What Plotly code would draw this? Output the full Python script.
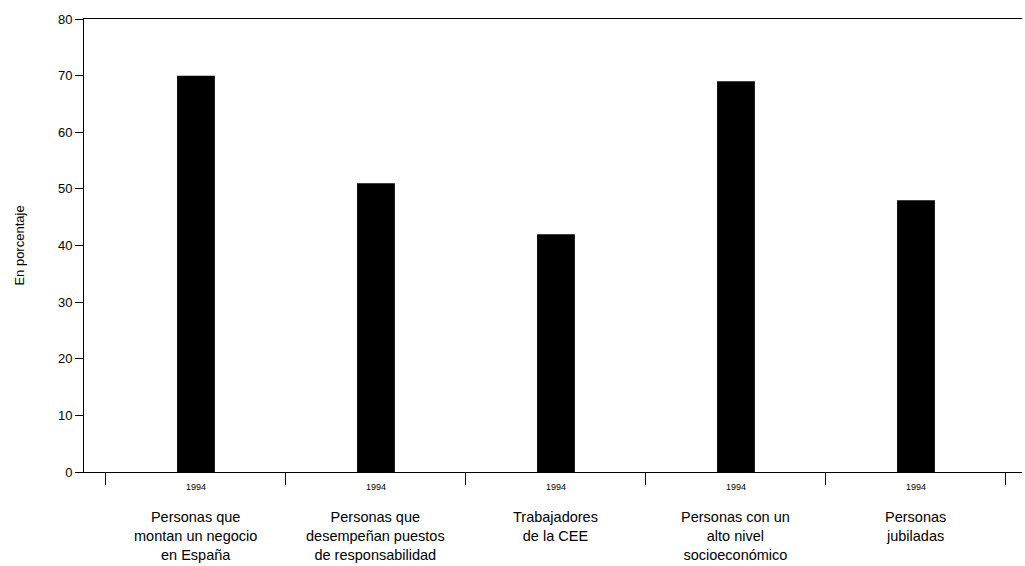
import plotly.graph_objects as go

categories = ["Personas que<br>montan un negocio<br>en España",
              "Personas que<br>desempeñan puestos<br>de responsabilidad",
              "Trabajadores<br>de la CEE",
              "Personas con un<br>alto nivel<br>socioeconómico",
              "Personas<br>jubiladas"]
years = ["1994", "1994", "1994", "1994", "1994"]
values = [70, 51, 42, 69, 48]
y_ticks = [0, 10, 20, 30, 40, 50, 60, 70, 80]

pos = list(range(len(categories)))

fig = go.Figure()
fig.add_trace(go.Bar(x=pos, y=values, width=0.21,
                     marker=dict(color="black", line=dict(width=0))))

for p, c in zip(pos, categories):
    fig.add_annotation(x=p, y=-0.078, xref="x", yref="paper", text=c,
                       showarrow=False, yanchor="top", xanchor="center",
                       font=dict(size=14.5, color="black", family="Liberation Sans, Arial"),
                       align="center")

fig.update_layout(
    width=1025, height=566,
    margin=dict(l=84, r=3, t=19, b=94),
    paper_bgcolor="white", plot_bgcolor="white",
    showlegend=False,
    font=dict(family="Liberation Sans, Arial", color="black"),
    xaxis=dict(range=[-0.622, 4.589], tickvals=pos, ticktext=years,
               ticks="outside", ticklen=6, tickcolor="white", automargin=False,
               tickfont=dict(size=9, color="black"),
               showline=True, linecolor="black", linewidth=1, mirror=True,
               showgrid=False, zeroline=False,
               minor=dict(tickvals=[-0.5, 0.5, 1.5, 2.5, 3.5, 4.5], ticks="outside",
                          ticklen=12, tickcolor="black", tickwidth=1, showgrid=False)),
    yaxis=dict(range=[0, 80], tickvals=y_ticks, ticks="outside", ticklen=8,
               tickcolor="black", tickfont=dict(size=13, color="black"),
               showline=True, linecolor="black", linewidth=1, showgrid=False,
               zeroline=False, automargin=False,
               title=dict(text="En porcentaje", font=dict(size=13, color="black"), standoff=30)),
)

fig.write_html("out.html", config={"displayModeBar": False},
               post_script="document.body.style.margin='0';")
